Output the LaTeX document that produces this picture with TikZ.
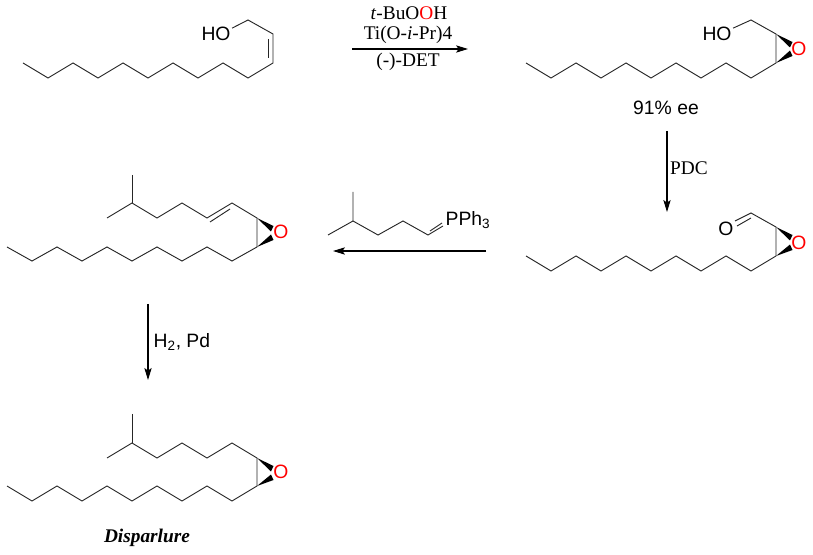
\documentclass[tikz,border=0pt]{standalone}
\usepackage{fontspec}
\setmainfont{Liberation Serif}
\newfontfamily\chemfont{Liberation Sans}
\usetikzlibrary{arrows.meta}
\tikzset{
  bond/.style={line width=0.7pt, line join=miter, black!85},
  rxnarrow/.style={line width=0.8pt, -{Stealth[length=9pt, width=5.5pt, inset=2pt]}},
  atomlabel/.style={font=\chemfont\fontsize{14.5}{16}\selectfont, inner sep=1pt},
  oxygen/.style={atomlabel, text=red},
  reagent/.style={font=\fontsize{14.5}{16}\selectfont, inner sep=0pt},
  wedgebond/.style={fill=black, draw=none},
}
\begin{document}
\begin{tikzpicture}[x=0.75pt, y=-0.75pt]
\useasboundingbox (0,0) rectangle (813,555);

% cis allylic alcohol
\node[atomlabel](topHO) at (216,34){HO};
\draw[bond] (topHO.20) -- (248,20) -- (273,34) -- (273,63) -- (248,78) -- (223,63) -- (198,78) -- (173,63) -- (148,78) -- (123,63) -- (98,78) -- (73,63) -- (48,78) -- (23,63);
\draw[bond] (268,39) -- (268,58);

% first arrow
\coordinate(arrow1Start) at (352,49);
\coordinate(arrow1End) at (468,49);
\draw[rxnarrow] (arrow1Start) -- (arrow1End);
\node[reagent](tbhpLabel) at (409,13){\textit{t}-BuO{\color{red}O}H};
\node[reagent](tiLabel) at (408,35){Ti(O-\textit{i}-Pr)4};
\node[reagent](detLabel) at (408,62){(-)-DET};

% epoxy alcohol
\node[atomlabel](epoxHO) at (717,34){HO};
\node[oxygen](epoxO) at (799,49){O};
\coordinate(epoxA) at (776,34);
\coordinate(epoxB) at (776,63);
\draw[bond] (epoxHO.20) -- (751,20) -- (epoxA) -- (epoxB) -- (751,78) -- (726,63) -- (701,78) -- (676,63) -- (651,78) -- (626,63) -- (601,78) -- (576,63) -- (551,78) -- (526,63);
\fill[wedgebond] (epoxA) -- (792.5,42) -- (790,47.5) -- cycle;
\fill[wedgebond] (epoxB) -- (790,50.5) -- (792.5,56) -- cycle;
\node[atomlabel](eeLabel) at (666,108){91\% ee};

% second arrow
\coordinate(arrow2Start) at (667,131);
\coordinate(arrow2End) at (667,212);
\draw[rxnarrow] (arrow2Start) -- (arrow2End);
\node[reagent](pdcLabel) at (689,168){PDC};

% epoxy aldehyde
\node[atomlabel](aldO) at (726,229){O};
\node[oxygen](aldEpoxO) at (799,243){O};
\coordinate(aldA) at (776,227);
\coordinate(aldB) at (776,256);
\draw[bond] (735,221) -- (751,213) -- (aldA) -- (aldB) -- (751,271) -- (726,256) -- (701,271) -- (676,256) -- (651,271) -- (626,256) -- (601,271) -- (576,256) -- (551,271) -- (526,256);
\draw[bond] (737,226) -- (751,218);
\fill[wedgebond] (aldA) -- (792.5,235) -- (790,240.5) -- cycle;
\fill[wedgebond] (aldB) -- (790,244.5) -- (792.5,250) -- cycle;

% ylide
\node[atomlabel, anchor=west](ylideP) at (444,220){PPh\textsubscript{3}};
\draw[bond] (353,192) -- (353,221) -- (328,235);
\draw[bond] (353,221) -- (378,235) -- (403,221) -- (428,235) -- (443,226);
\draw[bond] (430,231) -- (442,223);

% third arrow
\coordinate(arrow3Start) at (486,251);
\coordinate(arrow3End) at (333,251);
\draw[rxnarrow] (arrow3Start) -- (arrow3End);

% alkene epoxide
\node[oxygen](midO) at (281,232){O};
\coordinate(midA) at (257,218);
\coordinate(midB) at (257,247);
\draw[bond] (107,218) -- (132,203) -- (157,218) -- (182,203) -- (207,218) -- (232,203) -- (midA) -- (midB) -- (232,261) -- (207,247) -- (182,261) -- (157,247) -- (132,261) -- (107,247) -- (82,261) -- (57,247) -- (32,261) -- (7,247);
\draw[bond] (132,175) -- (132,203);
\draw[bond] (210,222) -- (230,209);
\fill[wedgebond] (midA) -- (273.5,226) -- (271,231.5) -- cycle;
\fill[wedgebond] (midB) -- (271,234.5) -- (273.5,240) -- cycle;

% fourth arrow
\coordinate(arrow4Start) at (148,304);
\coordinate(arrow4End) at (148,380);
\draw[rxnarrow] (arrow4Start) -- (arrow4End);
\node[atomlabel, anchor=west](h2Label) at (152,342){H\textsubscript{2}, Pd};

% disparlure
\node[oxygen](dispO) at (281,472){O};
\coordinate(dispA) at (257,458);
\coordinate(dispB) at (257,486);
\draw[bond] (107,458) -- (132,443) -- (157,458) -- (182,443) -- (207,458) -- (232,443) -- (dispA) -- (dispB) -- (232,501) -- (207,486) -- (182,501) -- (157,486) -- (132,501) -- (107,486) -- (82,501) -- (57,486) -- (32,501) -- (7,486);
\draw[bond] (132,414) -- (132,443);
\fill[wedgebond] (dispA) -- (273.5,466) -- (271,471.5) -- cycle;
\fill[wedgebond] (dispB) -- (271,474.5) -- (273.5,480) -- cycle;
\node[font=\fontsize{14.5}{16}\selectfont\bfseries\itshape](dispLabel) at (147,538){Disparlure};
\end{tikzpicture}
\end{document}
